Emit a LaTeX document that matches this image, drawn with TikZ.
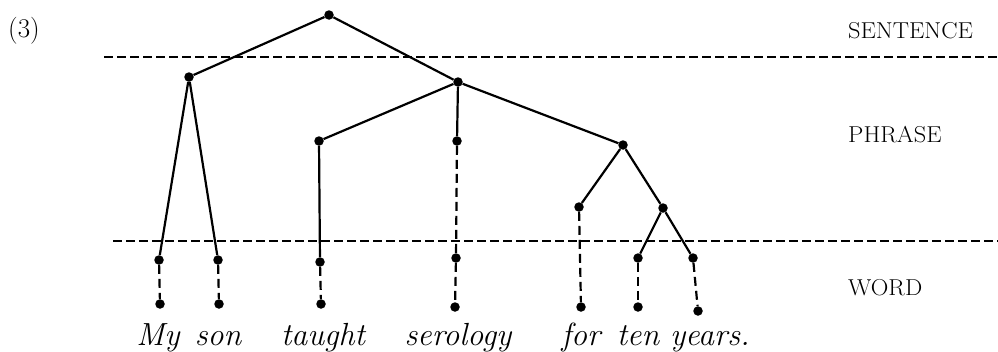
\documentclass[tikz,border=0pt]{standalone}
\usepackage{fontspec}
\begin{document}
\begin{tikzpicture}[x=1pt,y=-1pt,
  dot/.style={circle,fill=black,inner sep=0pt,minimum size=9.5pt},
  solidedge/.style={line width=2.2pt},
  dashedge/.style={line width=2.2pt,dash pattern=on 9pt off 5pt},
  levelline/.style={line width=2pt,dash pattern=on 9pt off 4pt},
  lvl/.style={anchor=base west,inner sep=0pt,font=\fontsize{23}{23}\selectfont},
  wordlbl/.style={anchor=base,inner sep=0pt,font=\fontsize{32}{32}\selectfont\itshape}]
\useasboundingbox (0,0) rectangle (998,351);
% level separators
\coordinate (l1a) at (104,57); \coordinate (l1b) at (998,57);
\coordinate (l2a) at (113,241); \coordinate (l2b) at (998,241);
\draw[levelline] (l1a) -- (l1b);
\draw[levelline] (l2a) -- (l2b);
% labels
\node[lvl] (num) at (8,37) {\fontsize{27}{27}\selectfont(3)};
\node[lvl] (sent) at (848,38) {\scalebox{1.06}[1]{SENTENCE}};
\node[lvl] (phr) at (848,142) {\scalebox{1.06}[1]{PHRASE}};
\node[lvl] (wrd) at (848,295) {\scalebox{1.06}[1]{WORD}};
% tree nodes
\node[dot] (S) at (329,15) {};
\node[dot] (NP) at (189,77) {};
\node[dot] (VP) at (458,82) {};
\node[dot] (V) at (319,141) {};
\node[dot] (O) at (457,141) {};
\node[dot] (PP) at (623,145) {};
\node[dot] (P) at (579,207) {};
\node[dot] (NP2) at (663,208) {};
\node[dot] (my1) at (159,260) {};
\node[dot] (son1) at (218,260) {};
\node[dot] (tau1) at (320,262) {};
\node[dot] (ser1) at (456,258) {};
\node[dot] (ten1) at (638,258) {};
\node[dot] (yea1) at (693,258) {};
\node[dot] (my2) at (160,304) {};
\node[dot] (son2) at (219,304) {};
\node[dot] (tau2) at (321,304) {};
\node[dot] (ser2) at (455,307) {};
\node[dot] (for2) at (581,307) {};
\node[dot] (ten2) at (638,307) {};
\node[dot] (yea2) at (698,311) {};
% solid branches
\draw[solidedge] (S) -- (NP);
\draw[solidedge] (S) -- (VP);
\draw[solidedge] (NP) -- (my1);
\draw[solidedge] (NP) -- (son1);
\draw[solidedge] (VP) -- (V);
\draw[solidedge] (VP) -- (O);
\draw[solidedge] (VP) -- (PP);
\draw[solidedge] (V) -- (tau1);
\draw[solidedge] (PP) -- (P);
\draw[solidedge] (PP) -- (NP2);
\draw[solidedge] (NP2) -- (ten1);
\draw[solidedge] (NP2) -- (yea1);
% dashed branches
\draw[dashedge] (O) -- (ser1);
\draw[dashedge] (my1) -- (my2);
\draw[dashedge] (son1) -- (son2);
\draw[dashedge] (tau1) -- (tau2);
\draw[dashedge] (ser1) -- (ser2);
\draw[dashedge] (P) -- (for2);
\draw[dashedge] (ten1) -- (ten2);
\draw[dashedge] (yea1) -- (yea2);
% words
\node[wordlbl] (wmy) at (158,345) {My};
\node[wordlbl] (wson) at (218,345) {son};
\node[wordlbl] (wtau) at (323,345) {taught};
\node[wordlbl] (wser) at (458,345) {serology};
\node[wordlbl] (wfor) at (581,345) {for};
\node[wordlbl] (wten) at (638,345) {ten};
\node[wordlbl] (wyea) at (710,345) {years.};
\end{tikzpicture}
\end{document}
